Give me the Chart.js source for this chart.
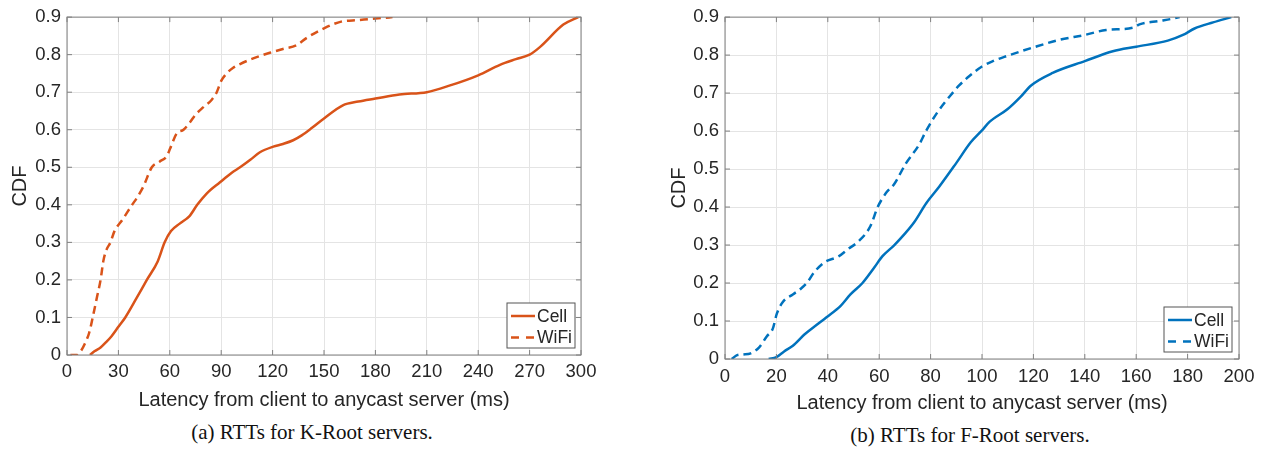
<!DOCTYPE html>
<html>
<head>
<meta charset="utf-8">
<script src="https://cdn.jsdelivr.net/npm/chart.js@4.4.1/dist/chart.umd.min.js"></script>
<style>
body { margin: 0; background: #fff; width: 1264px; height: 451px; overflow: hidden; position: relative; }
canvas { position: absolute; top: 0; }
#k-root-chart { left: 0; }
#f-root-chart { left: 640px; }
.caption { position: absolute; font-family: "Liberation Serif", "DejaVu Serif", serif; font-size: 21px; color: #111; transform: translateX(-50%); white-space: nowrap; }
</style>
</head>
<body>
<canvas id="k-root-chart" width="632" height="420"></canvas>
<canvas id="f-root-chart" width="624" height="420"></canvas>
<div class="caption" style="left:312px;top:420px">(a) RTTs for K-Root servers.</div>
<div class="caption" style="left:970px;top:423px">(b) RTTs for F-Root servers.</div>
<script>
// K-Root latency CDF (ms)
const kCellX = [13.4, 16, 19.6, 23, 26, 30, 34, 40.4, 46.6, 53, 57, 60.7, 65.8, 71.5, 76, 81.5, 89.3, 96, 101, 107, 112.6, 120.4, 126, 132, 137, 143, 150, 161, 170, 180, 194, 210, 223.6, 240, 252.7, 262, 270, 276, 289.7, 298.4];
const kCellY = [0, 0.01, 0.02, 0.035, 0.05, 0.075, 0.1, 0.15, 0.2, 0.25, 0.3, 0.33, 0.35, 0.37, 0.4, 0.43, 0.46, 0.485, 0.5, 0.52, 0.54, 0.555, 0.562, 0.572, 0.585, 0.605, 0.63, 0.665, 0.675, 0.683, 0.694, 0.7, 0.718, 0.745, 0.773, 0.788, 0.8, 0.82, 0.88, 0.9];
const kWifiX = [2, 6, 8, 10.4, 13, 15, 17.3, 19.6, 21.2, 23, 25.4, 27.7, 32.3, 38, 41, 44.7, 49.5, 54, 58.3, 60.2, 64, 68, 71.8, 75, 79.6, 84.5, 87.4, 90, 93.2, 97, 101, 108.7, 118.4, 126, 134, 140, 150, 160, 170, 180, 190];
const kWifiY = [0, 0, 0.01, 0.03, 0.06, 0.1, 0.15, 0.2, 0.25, 0.28, 0.3, 0.33, 0.36, 0.4, 0.42, 0.45, 0.5, 0.515, 0.53, 0.55, 0.59, 0.6, 0.62, 0.64, 0.66, 0.68, 0.7, 0.73, 0.75, 0.765, 0.775, 0.79, 0.805, 0.815, 0.825, 0.845, 0.87, 0.888, 0.892, 0.896, 0.9];

// F-Root latency CDF (ms)
const fCellX = [17, 20, 23, 26.4, 31, 35.7, 39.5, 45, 48.8, 53.5, 58, 61.2, 65.9, 70, 73.6, 78.3, 83.4, 89.9, 95.7, 100, 102.9, 110, 115, 119.1, 127.5, 140, 150.9, 160, 172.3, 178.2, 182.7, 189.9, 197];
const fCellY = [0, 0.005, 0.02, 0.035, 0.065, 0.09, 0.11, 0.14, 0.17, 0.2, 0.24, 0.27, 0.3, 0.33, 0.36, 0.41, 0.454, 0.515, 0.571, 0.602, 0.624, 0.658, 0.69, 0.72, 0.753, 0.784, 0.81, 0.822, 0.838, 0.853, 0.87, 0.886, 0.9];
const fWifiX = [2.6, 4.7, 7, 10, 13.2, 16.3, 18.6, 20.2, 22.5, 26.4, 29.5, 31.8, 34.9, 38.8, 44.2, 48, 52, 56.6, 59.4, 61, 63, 65.8, 70.4, 75.6, 78.2, 82.7, 88.5, 91.1, 95.1, 100, 104.2, 109.4, 119.9, 130.1, 140, 148.3, 158.7, 161.3, 169.1, 174.3, 176.9];
const fWifiY = [0, 0.01, 0.012, 0.015, 0.03, 0.06, 0.08, 0.12, 0.15, 0.17, 0.185, 0.2, 0.23, 0.255, 0.27, 0.29, 0.31, 0.35, 0.4, 0.42, 0.44, 0.46, 0.515, 0.565, 0.6, 0.65, 0.7, 0.72, 0.745, 0.77, 0.784, 0.797, 0.82, 0.84, 0.853, 0.866, 0.872, 0.881, 0.89, 0.896, 0.9];

const seriesLabels = ['Cell', 'WiFi'];
const xTitle = 'Latency from client to anycast server (ms)';
const yTitle = 'CDF';

const ORANGE = '#D95319';
const BLUE = '#0072BD';
const FONT = '"Liberation Sans", Arial, sans-serif';

function toPoints(xs, ys) {
    return xs.map((x, i) => ({ x: x, y: ys[i] }));
}

// MATLAB-style box, inward ticks and legend
const framePlugin = {
    id: 'frame',
    afterDatasetsDraw(chart, args, opts) {
        const ctx = chart.ctx;
        const a = chart.chartArea;
        const xs = chart.scales.x, ys = chart.scales.y;
        ctx.save();
        ctx.strokeStyle = '#808080';
        ctx.lineWidth = 1;
        ctx.strokeRect(a.left, a.top, a.right - a.left, a.bottom - a.top);
        ctx.beginPath();
        xs.ticks.forEach(t => {
            const px = xs.getPixelForValue(t.value);
            ctx.moveTo(px, a.bottom); ctx.lineTo(px, a.bottom - 5);
            ctx.moveTo(px, a.top); ctx.lineTo(px, a.top + 5);
        });
        ys.ticks.forEach(t => {
            const py = ys.getPixelForValue(t.value);
            ctx.moveTo(a.left, py); ctx.lineTo(a.left + 5, py);
            ctx.moveTo(a.right, py); ctx.lineTo(a.right - 5, py);
        });
        ctx.stroke();

        // 图例
        const w = 68, h = 45;
        const x1 = a.right - opts.right - w;
        const y1 = a.bottom - opts.bottom - h;
        ctx.fillStyle = '#fff';
        ctx.fillRect(x1, y1, w, h);
        ctx.strokeStyle = '#555';
        ctx.strokeRect(x1, y1, w, h);
        ctx.font = '17.5px ' + FONT;
        ctx.textBaseline = 'middle';
        chart.data.datasets.forEach((ds, i) => {
            const cy = y1 + 13 + i * 21.5;
            ctx.strokeStyle = ds.borderColor;
            ctx.lineWidth = ds.borderWidth;
            ctx.setLineDash(ds.borderDash ? [8, 7] : []);
            ctx.beginPath();
            ctx.moveTo(x1 + 4, cy);
            ctx.lineTo(x1 + 28, cy);
            ctx.stroke();
            ctx.setLineDash([]);
            ctx.fillStyle = '#262626';
            ctx.fillText(ds.label, x1 + 30, cy + 1);
        });
        ctx.restore();
    }
};

function createCdfChart(canvasId, color, cellPts, wifiPts, cfg) {
    const ctx = document.getElementById(canvasId).getContext('2d');
    return new Chart(ctx, {
        type: 'scatter',
        data: {
            datasets: [
                {
                    label: seriesLabels[0],
                    data: cellPts,
                    showLine: true,
                    borderColor: color,
                    borderWidth: 2.5,
                    pointRadius: 0,
                    cubicInterpolationMode: 'monotone'
                },
                {
                    label: seriesLabels[1],
                    data: wifiPts,
                    showLine: true,
                    borderColor: color,
                    borderWidth: 2.5,
                    borderDash: [8, 5],
                    pointRadius: 0,
                    cubicInterpolationMode: 'monotone'
                }
            ]
        },
        options: {
            responsive: false,
            animation: false,
            devicePixelRatio: 1,
            layout: { padding: { left: 0, top: 12, right: cfg.padRight, bottom: 0 } },
            plugins: {
                legend: { display: false },
                tooltip: { enabled: false },
                frame: { right: cfg.legRight, bottom: cfg.legBottom }
            },
            scales: {
                x: {
                    type: 'linear',
                    min: 0,
                    max: cfg.xMax,
                    afterFit: s => { s.height = cfg.xHeight; },
                    ticks: { stepSize: cfg.xStep, padding: cfg.xTickPad, color: '#262626', font: { family: FONT, size: 18.5 } },
                    grid: { color: '#e4e4e4', drawTicks: false },
                    border: { display: false },
                    title: { display: true, text: xTitle, color: '#262626', font: { family: FONT, size: 20 }, padding: { top: 0, bottom: cfg.xTitlePad } }
                },
                y: {
                    type: 'linear',
                    min: 0,
                    max: 0.9,
                    afterFit: s => { s.width = cfg.yWidth; },
                    ticks: {
                        stepSize: 0.1,
                        padding: 6,
                        color: '#262626',
                        font: { family: FONT, size: 18.5 },
                        callback: v => (Math.abs(v) < 1e-9 ? '0' : v.toFixed(1))
                    },
                    grid: { color: '#e4e4e4', drawTicks: false },
                    border: { display: false },
                    title: { display: true, text: yTitle, color: '#262626', font: { family: FONT, size: 20 }, padding: { top: cfg.yTitlePad, bottom: 0 } }
                }
            }
        },
        plugins: [framePlugin]
    });
}

createCdfChart('k-root-chart', ORANGE, toPoints(kCellX, kCellY), toPoints(kWifiX, kWifiY), {
    xMax: 300, xStep: 30, padRight: 51, xHeight: 65, yWidth: 67,
    xTickPad: 6, xTitlePad: 8, yTitlePad: 8, legRight: 6, legBottom: 7
});

createCdfChart('f-root-chart', BLUE, toPoints(fCellX, fCellY), toPoints(fWifiX, fWifiY), {
    xMax: 200, xStep: 20, padRight: 25, xHeight: 61, yWidth: 85,
    xTickPad: 7, xTitlePad: 5, yTitlePad: 27, legRight: 7, legBottom: 7
});
</script>
</body>
</html>
